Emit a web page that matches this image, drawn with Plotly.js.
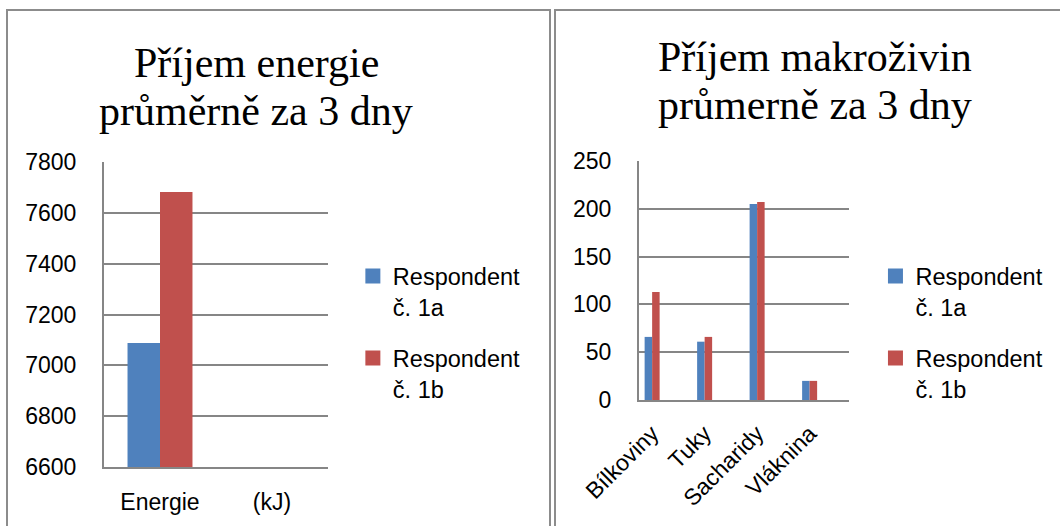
<!DOCTYPE html>
<html>
<head>
<meta charset="utf-8">
<script src="https://cdn.plot.ly/plotly-3.0.1.min.js"></script>
<style>
  html, body { margin: 0; padding: 0; background: #fff; width: 1060px; height: 526px; overflow: hidden; }
  #box1 { position: absolute; left: 6px; top: 9px; width: 541px; height: 540px; border: 2px solid #8c8c8c; border-bottom: none; }
  #box2 { position: absolute; left: 554px; top: 9px; width: 520px; height: 540px; border-left: 2px solid #8c8c8c; border-top: 2px solid #8c8c8c; }
  #chart1 { position: absolute; left: 0; top: 0; width: 541px; height: 515px; }
  #chart2 { position: absolute; left: 0; top: 0; width: 504px; height: 515px; }
</style>
</head>
<body>
<div id="box1"><div id="chart1"></div></div>
<div id="box2"><div id="chart2"></div></div>
<script>
// ---- data ----
const seriesNames = ["Respondent<br>č. 1a", "Respondent<br>č. 1b"];
const seriesColors = ["#4F81BD", "#C0504D"];

const energyCategories = ["Energie", "(kJ)"];
const energy1a = [7088, null];
const energy1b = [7682, null];
const energyTicks = [6600, 6800, 7000, 7200, 7400, 7600, 7800];

const macroCategories = ["Bílkoviny", "Tuky", "Sacharidy", "Vláknina"];
const macro1a = [66, 61, 205, 20];
const macro1b = [113, 66, 207, 20];
const macroTicks = [0, 50, 100, 150, 200, 250];

const title1 = ["Příjem energie", "průměrně za 3 dny"];
const title2 = ["Příjem makroživin", "průmerně za 3 dny"];

// ---- styles ----
const GRID = "#868686";
const SANS = "Liberation Sans, Arial, sans-serif";
const SERIF = "Liberation Serif, Times New Roman, serif";
const tickFont = { family: SANS, size: 23, color: "#000" };
const legendFont = { family: SANS, size: 23.5, color: "#000" };
const titleFont = { family: SERIF, size: 42, color: "#000" };

function bars(cats, vals, i) {
  return {
    type: "bar", x: cats, y: vals, name: seriesNames[i],
    marker: { color: seriesColors[i], line: { width: 0 } },
    showlegend: false, hoverinfo: "skip"
  };
}
// legend-only entries (no plotted points) to get a larger square key
function key(i) {
  return {
    type: "scatter", mode: "markers", x: [null], y: [null], name: seriesNames[i],
    marker: { color: seriesColors[i], symbol: "square", size: 15, line: { width: 0 } },
    legendgroup: "g" + i, showlegend: true, hoverinfo: "skip"
  };
}

function titleAnn(lines, x, ys) {
  return lines.map((t, k) => ({
    text: t, xref: "paper", yref: "paper", x: x, y: ys[k],
    xanchor: "center", yanchor: "middle", showarrow: false, font: titleFont
  }));
}

// ---- chart 1 ----
const layout1 = {
  width: 541, height: 515,
  margin: { l: 96, r: 221, t: 151, b: 59, pad: 0 },
  paper_bgcolor: "rgba(0,0,0,0)", plot_bgcolor: "rgba(0,0,0,0)",
  showlegend: true,
  barmode: "group", bargap: 0.42, bargroupgap: 0,
  xaxis: {
    type: "category", categoryarray: energyCategories, categoryorder: "array",
    range: [-0.5, 1.5], showgrid: false, zeroline: false,
    showline: true, linecolor: GRID, linewidth: 2,
    ticks: "", tickfont: tickFont, ticklabelstandoff: 13, fixedrange: true
  },
  yaxis: {
    range: [6600, 7800], tickvals: energyTicks, ticktext: energyTicks.map(String),
    showgrid: true, gridcolor: GRID, gridwidth: 2, zeroline: false,
    showline: true, linecolor: GRID, linewidth: 2,
    ticks: "", tickfont: tickFont, ticklabelstandoff: 21, fixedrange: true
  },
  legend: {
    x: 1.111, xanchor: "left", y: 0.698, yanchor: "top",
    font: legendFont, valign: "top", traceorder: "grouped", tracegroupgap: 18,
    bgcolor: "rgba(0,0,0,0)", borderwidth: 0
  },
  annotations: titleAnn(title1, 0.6786, [1.3246, 1.167])
};
Plotly.newPlot("chart1", [bars(energyCategories, energy1a, 0), bars(energyCategories, energy1b, 1), key(0), key(1)], layout1, { staticPlot: true });

// ---- chart 2 ----
const layout2 = {
  width: 504, height: 515,
  margin: { l: 83, r: 211, t: 150, b: 126, pad: 0 },
  paper_bgcolor: "rgba(0,0,0,0)", plot_bgcolor: "rgba(0,0,0,0)",
  showlegend: true,
  barmode: "group", bargap: 0.714, bargroupgap: 0,
  xaxis: {
    type: "category", categoryarray: macroCategories, categoryorder: "array",
    range: [-0.25, 3.75], showgrid: false, zeroline: false,
    showline: true, linecolor: GRID, linewidth: 2,
    ticks: "", tickfont: tickFont, tickangle: -45, ticklabelstandoff: 9, fixedrange: true
  },
  yaxis: {
    range: [0, 250], tickvals: macroTicks, ticktext: macroTicks.map(String),
    showgrid: true, gridcolor: GRID, gridwidth: 2, zeroline: false,
    showline: true, linecolor: GRID, linewidth: 2,
    ticks: "", tickfont: tickFont, ticklabelstandoff: 21, fixedrange: true
  },
  legend: {
    x: 1.126, xanchor: "left", y: 0.61, yanchor: "top",
    font: legendFont, valign: "top", traceorder: "grouped", tracegroupgap: 18,
    bgcolor: "rgba(0,0,0,0)", borderwidth: 0
  },
  annotations: titleAnn(title2, 0.838, [1.435, 1.234])
};
Plotly.newPlot("chart2", [bars(macroCategories, macro1a, 0), bars(macroCategories, macro1b, 1), key(0), key(1)], layout2, { staticPlot: true });
</script>
</body>
</html>
